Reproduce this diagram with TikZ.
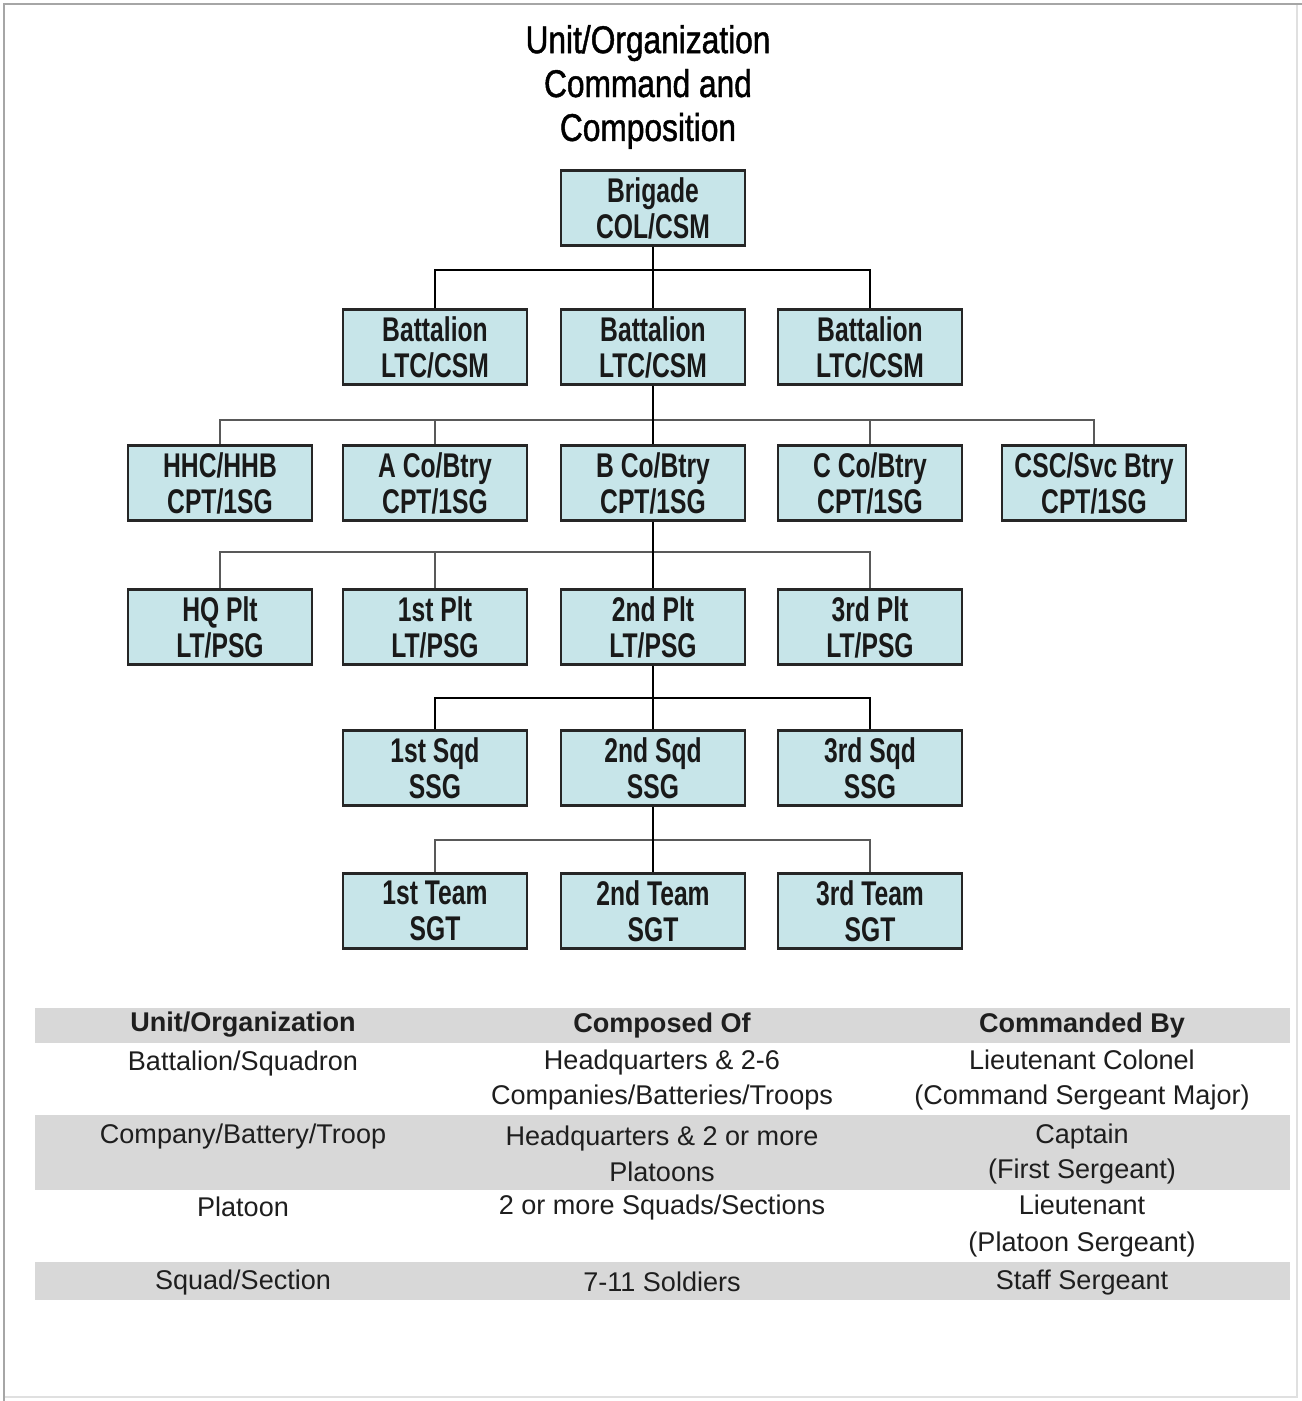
\documentclass[tikz,border=0pt]{standalone}
\usepackage{fontspec}
\setmainfont{Liberation Sans}
\newfontfamily\titlefont[FakeStretch=0.82,FakeBold=1.2]{Liberation Sans}
\newfontfamily\boxfont[FakeStretch=0.72]{Liberation Sans}
\newfontfamily\tabfont{Liberation Sans}
\definecolor{boxfill}{RGB}{199,229,233}
\definecolor{bandgray}{RGB}{216,216,216}
\definecolor{txt}{RGB}{30,30,30}
\tikzset{
  unitbox/.style={draw=black!85, line width=1.3pt, fill=boxfill, minimum width=3.68cm, minimum height=1.5cm,
    inner sep=0pt, align=center, text=black!90, font=\boxfont\bfseries\fontsize{19.5}{20.4}\selectfont},
  heavy/.style={draw=black, line width=1.6pt},
  light/.style={draw=black!65, line width=0.9pt},
  cell/.style={align=center, text=txt, inner sep=0pt, font=\tabfont\fontsize{15.4}{20.4}\selectfont},
  headcell/.style={cell, font=\tabfont\bfseries\fontsize{15.4}{20.4}\selectfont},
  titletext/.style={align=center, inner sep=0pt, text=black, font=\titlefont\fontsize{22}{25}\selectfont}
}
\begin{document}
\begin{tikzpicture}[x=0.02cm,y=-0.02cm]
\useasboundingbox (0,0) rectangle (1302,1401);
\fill[white] (0,0) rectangle (1302,1401);
% frame
\draw[black!12, line width=0.8pt] (1297,4) -- (1297,1397) -- (4,1397);
\draw[black!35, line width=0.9pt] (4,1401) -- (4,4) -- (1302,4);

% title
\node[titletext] (title) at (648,87) {Unit/Organization\\Command and\\Composition};

% boxes
\node[unitbox] (brig) at (653,208) {Brigade\\COL/CSM};
\node[unitbox] (bat1) at (435,347) {Battalion\\LTC/CSM};
\node[unitbox] (bat2) at (653,347) {Battalion\\LTC/CSM};
\node[unitbox] (bat3) at (870,347) {Battalion\\LTC/CSM};
\node[unitbox] (co1) at (220,483) {HHC/HHB\\CPT/1SG};
\node[unitbox] (co2) at (435,483) {A Co/Btry\\CPT/1SG};
\node[unitbox] (co3) at (653,483) {B Co/Btry\\CPT/1SG};
\node[unitbox] (co4) at (870,483) {C Co/Btry\\CPT/1SG};
\node[unitbox] (co5) at (1094,483) {CSC/Svc Btry\\CPT/1SG};
\node[unitbox] (plt1) at (220,627) {HQ Plt\\LT/PSG};
\node[unitbox] (plt2) at (435,627) {1st Plt\\LT/PSG};
\node[unitbox] (plt3) at (653,627) {2nd Plt\\LT/PSG};
\node[unitbox] (plt4) at (870,627) {3rd Plt\\LT/PSG};
\node[unitbox] (sqd1) at (435,768) {1st Sqd\\SSG};
\node[unitbox] (sqd2) at (653,768) {2nd Sqd\\SSG};
\node[unitbox] (sqd3) at (870,768) {3rd Sqd\\SSG};
\node[unitbox] (tm1) at (435,911) {1st Team\\SGT};
\node[unitbox] (tm2) at (653,911) {2nd Team\\SGT};
\node[unitbox] (tm3) at (870,911) {3rd Team\\SGT};

% connectors
\coordinate (bus1) at (653,270);
\draw[heavy] (brig.south) -- (bus1) -- (bat2.north);
\draw[heavy] (bat1.north) |- (bus1) -| (bat3.north);

\coordinate (bus2) at (653,420);
\draw[light] (co1.north) |- (bus2) -| (co5.north);
\draw[light] (co2.north) -- (co2.north |- bus2);
\draw[light] (co4.north) -- (co4.north |- bus2);
\draw[heavy] (bat2.south) -- (bus2) -- (co3.north);

\coordinate (bus3) at (653,552);
\draw[light] (plt1.north) |- (bus3) -| (plt4.north);
\draw[light] (plt2.north) -- (plt2.north |- bus3);
\draw[heavy] (co3.south) -- (bus3) -- (plt3.north);

\coordinate (bus4) at (653,698);
\draw[heavy] (sqd1.north) |- (bus4) -| (sqd3.north);
\draw[heavy] (plt3.south) -- (bus4) -- (sqd2.north);

\coordinate (bus5) at (653,840);
\draw[light] (tm1.north) |- (bus5) -| (tm3.north);
\draw[heavy] (sqd2.south) -- (bus5) -- (tm2.north);

% table bands
\fill[bandgray] (35,1008) rectangle (1290,1043);
\fill[bandgray] (35,1115) rectangle (1290,1190);
\fill[bandgray] (35,1262) rectangle (1290,1300);

% table text
\node[headcell] (h1) at (243,1025) {Unit/Organization};
\node[headcell] (h2) at (662,1025) {Composed Of};
\node[headcell] (h3) at (1082,1025) {Commanded By};

\node[cell] (r1a) at (243,1063) {Battalion/Squadron};
\node[cell] (r1b) at (662,1080) {Headquarters \& 2-6\\Companies/Batteries/Troops};
\node[cell] (r1c) at (1082,1080) {Lieutenant Colonel\\(Command Sergeant Major)};

\node[cell] (r2a) at (243,1136) {Company/Battery/Troop};
\node[cell] (r2b) at (662,1154) {Headquarters \& 2 or more\\Platoons};
\node[cell] (r2c) at (1082,1154) {Captain\\(First Sergeant)};

\node[cell] (r3a) at (243,1207) {Platoon};
\node[cell] (r3b) at (662,1207) {2 or more Squads/Sections};
\node[cell, font=\tabfont\fontsize{15.4}{21.5}\selectfont] (r3c) at (1082,1226) {Lieutenant\\(Platoon Sergeant)};

\node[cell] (r4a) at (243,1282) {Squad/Section};
\node[cell] (r4b) at (662,1282) {7-11 Soldiers};
\node[cell] (r4c) at (1082,1282) {Staff Sergeant};
\end{tikzpicture}
\end{document}
